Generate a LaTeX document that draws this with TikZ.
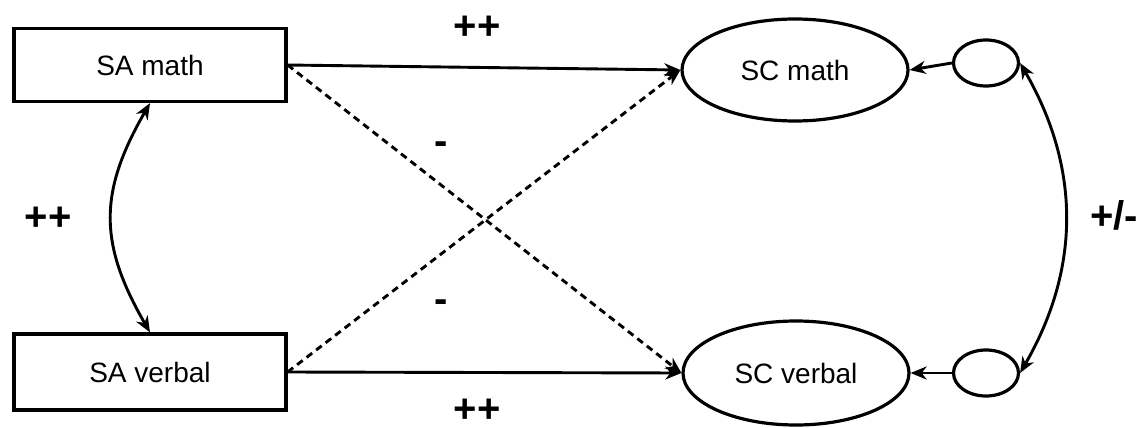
\documentclass[tikz,border=0pt]{standalone}
\usepackage{fontspec}
\setmainfont{Liberation Sans}
\usetikzlibrary{shapes.geometric,arrows.meta}
\begin{document}
\begin{tikzpicture}[x=1pt,y=-1pt,
  box/.style={draw,line width=3.2pt,rectangle,minimum width=272pt,minimum height=73pt,font=\fontsize{28}{30}\selectfont},
  latent/.style={draw,line width=3.2pt,ellipse,inner sep=0pt,font=\fontsize{28}{30}\selectfont},
  resid/.style={draw,line width=3.2pt,ellipse,inner sep=0pt,minimum width=65pt,minimum height=46pt},
  tip/.style={-{Stealth[length=16pt,width=13pt,inset=5pt]}},
  path/.style={line width=2.9pt,tip},
  cross/.style={path,dash pattern=on 7pt off 5pt},
  both/.style={line width=2.9pt,{Stealth[length=16pt,width=13pt,inset=5pt]}-{Stealth[length=16pt,width=13pt,inset=5pt]}},
  sign/.style={inner sep=0pt,text depth=0pt,text height=26pt,font=\bfseries\fontsize{40}{40}\selectfont}]
\useasboundingbox (0,0) rectangle (1146,428);

\node[box] (sam) at (150,65) {SA math};
\node[box,minimum height=76pt] (sav) at (150,372) {SA verbal};
\node[latent,minimum width=226pt,minimum height=102pt] (scm) at (795,70) {SC math};
\node[latent,minimum width=226pt,minimum height=104pt] (scv) at (796,373) {SC verbal};
\node[resid] (em) at (986,63) {};
\node[resid] (ev) at (986,373) {};

% structural paths
\draw[path] (sam.east) -- (scm.west);
\draw[path] (sav.east) -- (scv.west);
\draw[cross] (sam.east) -- (scv.west);
\draw[cross] (sav.east) -- (scm.west);

% residuals
\draw[path] (em.west) -- (scm.east);
\draw[path] (ev.west) -- (scv.east);

% covariances
\draw[both] (sam.south) to[out=240,in=120,looseness=1.15] (sav.north);
\draw[both] (em.east) to[out=-60,in=60] (ev.east);

% expected signs
\node[sign] (p1) at (477,27) {++};
\node[sign] (p2) at (477,409) {++};
\node[sign] (m1) at (441,141) {-};
\node[sign] (m2) at (441,299) {-};
\node[sign] (p3) at (48,217) {++};
\node[sign] (pm) at (1114,216) {+/-};
\end{tikzpicture}
\end{document}
